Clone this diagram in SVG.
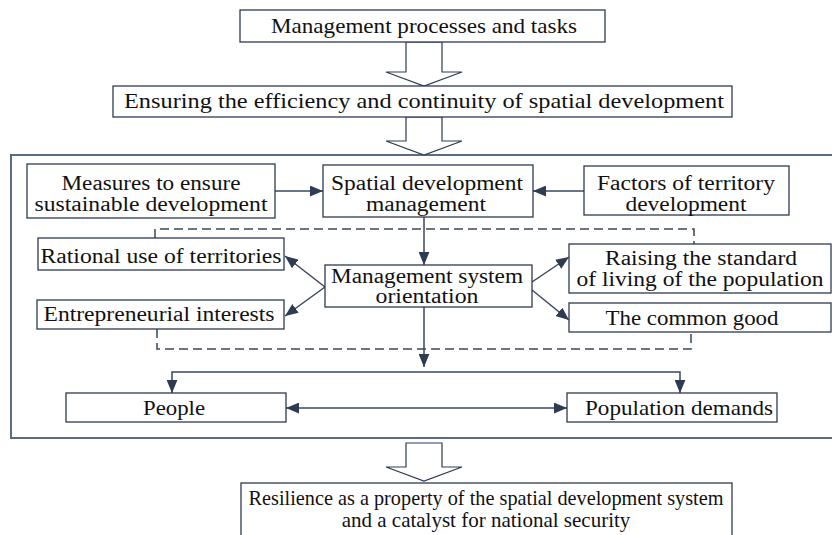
<svg xmlns="http://www.w3.org/2000/svg" width="832" height="535" viewBox="0 0 832 535">
<defs>
<style>
.box{fill:#fff;stroke:#2e3b52;stroke-width:1.3}
.hollow{fill:#fff;stroke:#2e3b52;stroke-width:1.2}
.cont{fill:none;stroke:#5b6b82;stroke-width:2}
.ln{fill:none;stroke:#3a475c;stroke-width:1.5}
.dash{fill:none;stroke:#3a475c;stroke-width:1.5;stroke-dasharray:9,5}
.t1{font-family:"Liberation Serif","Times New Roman",serif;font-size:21px;fill:#111;text-anchor:middle}
.t2{font-family:"Liberation Serif","Times New Roman",serif;font-size:20.5px;fill:#111;text-anchor:middle}
</style>
<marker id="ah" viewBox="0 0 12 10" refX="12" refY="5" markerWidth="13" markerHeight="11" markerUnits="userSpaceOnUse" orient="auto-start-reverse">
<path d="M0,0 L12,5 L0,10 Z" fill="#2e3b52"/>
</marker>
</defs>
<rect width="832" height="535" fill="#fff"/>

<path class="cont" d="M833,155 H11 V438 H833"/>

<g id="dashed-frame">
<path class="dash" d="M155,238 V229 H694 V244"/>
<path class="dash" d="M157,329 V349 H691 V332"/>
</g>

<g id="connectors">
<polygon class="hollow" points="406,42 442,42 442,72 462,72 424,86 386,72 406,72"/>
<polygon class="hollow" points="406,117 442,117 442,141 462,141 424,155 386,141 406,141"/>
<polygon class="hollow" points="406,443 442,443 442,467 462,467 424,481 386,467 406,467"/>
<path class="ln" d="M275,191 H323" marker-end="url(#ah)"/>
<path class="ln" d="M584,191 H533" marker-end="url(#ah)"/>
<path class="ln" d="M424,217 V265" marker-end="url(#ah)"/>
<path class="ln" d="M325,287 L285,256" marker-end="url(#ah)"/>
<path class="ln" d="M325,287 L285,316" marker-end="url(#ah)"/>
<path class="ln" d="M532,282 L569,257" marker-end="url(#ah)"/>
<path class="ln" d="M532,290 L569,320" marker-end="url(#ah)"/>
<path class="ln" d="M424,307 V367" marker-end="url(#ah)"/>
<path class="ln" d="M424,372 H172 V393" marker-end="url(#ah)"/>
<path class="ln" d="M424,372 H680 V393" marker-end="url(#ah)"/>
<path class="ln" d="M286,408 H567" marker-start="url(#ah)" marker-end="url(#ah)"/>
</g>

<g id="n-top">
<rect class="box" x="240" y="10" width="365" height="32"/>
<text class="t1" x="424" y="33" textLength="306" lengthAdjust="spacingAndGlyphs">Management processes and tasks</text>
</g>
<g id="n-ensure">
<rect class="box" x="113" y="86" width="619" height="31"/>
<text class="t1" x="424" y="108" textLength="600" lengthAdjust="spacingAndGlyphs">Ensuring the efficiency and continuity of spatial development</text>
</g>
<g id="n-measures">
<rect class="box" x="27" y="164" width="248" height="54"/>
<text class="t2" x="151" y="190" textLength="179" lengthAdjust="spacingAndGlyphs">Measures to ensure</text>
<text class="t2" x="151" y="211" textLength="233" lengthAdjust="spacingAndGlyphs">sustainable development</text>
</g>
<g id="n-spatial">
<rect class="box" x="323" y="165" width="210" height="52"/>
<text class="t2" x="427" y="190" textLength="192" lengthAdjust="spacingAndGlyphs">Spatial development</text>
<text class="t2" x="426" y="211" textLength="120" lengthAdjust="spacingAndGlyphs">management</text>
</g>
<g id="n-factors">
<rect class="box" x="584" y="166" width="205" height="49"/>
<text class="t2" x="686" y="190" textLength="178" lengthAdjust="spacingAndGlyphs">Factors of territory</text>
<text class="t2" x="686" y="211" textLength="121" lengthAdjust="spacingAndGlyphs">development</text>
</g>
<g id="n-rational">
<rect class="box" x="38" y="238" width="246" height="32"/>
<text class="t2" x="161" y="263" textLength="241" lengthAdjust="spacingAndGlyphs">Rational use of territories</text>
</g>
<g id="n-entre">
<rect class="box" x="37" y="300" width="247" height="29"/>
<text class="t2" x="159" y="321" textLength="231" lengthAdjust="spacingAndGlyphs">Entrepreneurial interests</text>
</g>
<g id="n-mgmt">
<rect class="box" x="325" y="265" width="207" height="42"/>
<text class="t2" x="427" y="283" font-size="20" textLength="192" lengthAdjust="spacingAndGlyphs">Management system</text>
<text class="t2" x="427" y="303" font-size="20" textLength="103" lengthAdjust="spacingAndGlyphs">orientation</text>
</g>
<g id="n-raising">
<rect class="box" x="569" y="244" width="262" height="49"/>
<text class="t2" x="701" y="265" textLength="192" lengthAdjust="spacingAndGlyphs">Raising the standard</text>
<text class="t2" x="700" y="286" textLength="247" lengthAdjust="spacingAndGlyphs">of living of the population</text>
</g>
<g id="n-common">
<rect class="box" x="569" y="303" width="262" height="29"/>
<text class="t2" x="692" y="325" textLength="173" lengthAdjust="spacingAndGlyphs">The common good</text>
</g>
<g id="n-people">
<rect class="box" x="66" y="393" width="220" height="29"/>
<text class="t1" x="174" y="415" textLength="62" lengthAdjust="spacingAndGlyphs">People</text>
</g>
<g id="n-demands">
<rect class="box" x="567" y="393" width="210" height="29"/>
<text class="t1" x="679" y="415" textLength="188" lengthAdjust="spacingAndGlyphs">Population demands</text>
</g>
<g id="n-resilience">
<rect class="box" x="241" y="483" width="491" height="62"/>
<text class="t1" x="486" y="505" font-size="20" textLength="475" lengthAdjust="spacingAndGlyphs">Resilience as a property of the spatial development system</text>
<text class="t1" x="486" y="527" font-size="20">and a catalyst for national security</text>
</g>
</svg>
